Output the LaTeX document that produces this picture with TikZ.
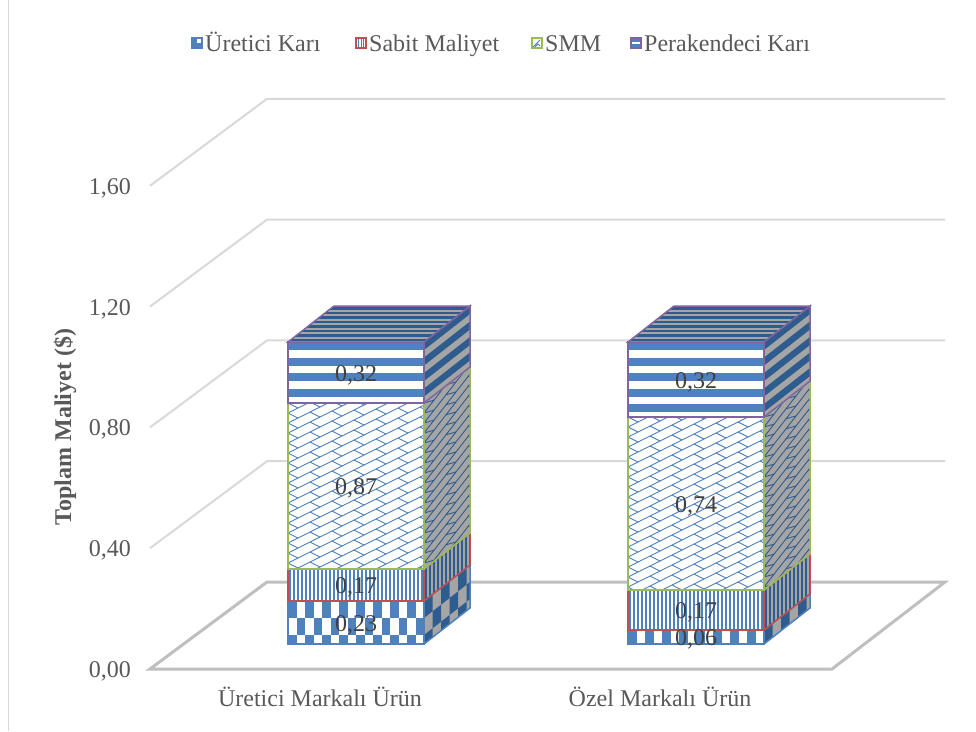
\documentclass[tikz,border=0pt]{standalone}
\usepackage{fontspec}
\setmainfont{Liberation Serif}
\definecolor{ublue}{HTML}{4F81BD}
\definecolor{dblue}{HTML}{2E5C8E}
\definecolor{sgray}{HTML}{A5A5A5}
\definecolor{cred}{HTML}{C0504D}
\definecolor{cgreen}{HTML}{9BBB59}
\definecolor{cpurple}{HTML}{8064A2}
\definecolor{gridc}{HTML}{D9D9D9}
\definecolor{floorc}{HTML}{BFBFBF}
\definecolor{txt}{HTML}{595959}
\definecolor{lbl}{HTML}{404040}

% fill patterns drawn in local coordinates: width #1, top #2, bottom #3, ink #4, ground #5
\newcommand\patChecker[5]{%
  \fill[#5] (0,#2) rectangle (#1,#3);
  \pgfmathtruncatemacro\ncol{ceil(#1/8.5)}%
  \pgfmathtruncatemacro\nrow{ceil((#3-#2)/17)}%
  \foreach \i in {0,...,\ncol}{\foreach \j in {0,...,\nrow}{%
    \pgfmathtruncatemacro\pp{mod(\i+\j,2)}%
    \ifnum\pp=0 \fill[#4] ({8.5*\i},{#2+17*\j}) rectangle ({8.5*\i+8.5},{#2+17*\j+17});\fi
  }}%
}
\newcommand\patVlines[5]{%
  \fill[#5] (0,#2) rectangle (#1,#3);
  \foreach \x in {2,6,...,#1}{\draw[#4,line width=2] (\x,#2) -- (\x,#3);}%
}
\newcommand\patShingle[5]{%
  \fill[#5] (0,#2) rectangle (#1,#3);
  \pgfmathtruncatemacro\nrow{ceil((#3-#2+0.5*#1)/10)+1}%
  \pgfmathtruncatemacro\ncol{ceil(#1/22)}%
  \foreach \r in {-1,...,\nrow}{%
    \pgfmathsetmacro\yy{#2+10*\r}%
    \draw[#4,line width=0.9] (0,\yy) -- (#1,{\yy-0.5*#1});
    \foreach \c in {-1,...,\ncol}{%
      \pgfmathsetmacro\xx{22*\c}%
      \draw[#4,line width=0.9] (\xx,{\yy-0.5*\xx}) -- ++(10,5);
    }%
  }%
}
\newcommand\patHstripes[5]{%
  \fill[#5] (0,#2) rectangle (#1,#3);
  \pgfmathtruncatemacro\nstr{ceil((#3-#2)/15.5)}%
  \foreach \k in {0,...,\nstr}{\fill[#4] (0,{#2+15.5*\k}) rectangle (#1,{#2+15.5*\k+8});}%
}

% one stacked segment: left x #1, top #2, bottom #3, pattern #4, edge colour #5
\newcommand\barseg[5]{%
  \pgfmathsetmacro\xr{#1+136}%
  \begin{scope}[shift={(#1,0)}]
    \clip (0,#2) rectangle (136,#3);
    #4{136}{#2}{#3}{ublue}{white}
  \end{scope}
  \begin{scope}[cm={1,0.7826,0,1,(\xr,0)}]
    \clip (0,#2) rectangle (46,#3);
    #4{46}{#2}{#3}{dblue}{sgray}
  \end{scope}
  \draw[#5,edge] (#1,#2) rectangle (\xr,#3);
  \draw[#5,edge] (\xr,#3) -- ++(46,-36) -- ++(0,{-(#3-#2)}) -- (\xr,#2);
}
% lid of a bar: left x #1, top #2
\newcommand\barlid[2]{%
  \begin{scope}
    \clip (#1,#2) -- ++(136,0) -- ++(46,-36) -- ++(-136,0) -- cycle;
    \fill[sgray] (#1,#2) rectangle ++(182,-36);
    \foreach \k in {0,...,8}{\fill[dblue] (#1,{#2-1-4.5*\k}) rectangle ++(182,-2.3);}
  \end{scope}
  \draw[cpurple,edge] (#1,#2) -- ++(136,0) -- ++(46,-36) -- ++(-136,0) -- cycle;
}

\begin{document}
\begin{tikzpicture}[x=1pt,y=-1pt,
  every node/.style={font=\fontsize{24}{29}\selectfont,inner sep=0pt},
  edge/.style={line width=1.5,line join=miter},
  gridline/.style={gridc,line width=2},
  floorline/.style={floorc,line width=3,line join=miter},
  ticklbl/.style={text=txt,anchor=base east},
  datalbl/.style={text=lbl,anchor=base},
  catlbl/.style={text=txt,anchor=base},
  leglbl/.style={text=txt,anchor=base west},
  legkey/.style={line width=1.2}]
\useasboundingbox (0,0) rectangle (976,731);
\fill[white] (0,0) rectangle (976,731);
\draw[gridc,line width=1] (8,0) -- (8,731);

% walls and floor
\foreach \v in {0.4,0.8,1.2,1.6}{
  \draw[gridline] (150,{669-302*\v}) -- (267,{582-302*\v}) -- (945,{582-302*\v});
}
\draw[floorline] (150,669) -- (832,669) -- (945,582) -- (267,582) -- cycle;

% first bar
\barseg{288}{601}{644}{\patChecker}{ublue}
\barseg{288}{569}{601}{\patVlines}{cred}
\barseg{288}{403}{569}{\patShingle}{cgreen}
\barseg{288}{342}{403}{\patHstripes}{cpurple}
\barlid{288}{342}

% second bar
\barseg{628}{630}{644}{\patChecker}{ublue}
\barseg{628}{590}{630}{\patVlines}{cred}
\barseg{628}{417}{590}{\patShingle}{cgreen}
\barseg{628}{342}{417}{\patHstripes}{cpurple}
\barlid{628}{342}

% value labels
\node[datalbl] (a1) at (356,631) {0,23};
\node[datalbl] (a2) at (356,593) {0,17};
\node[datalbl] (a3) at (356,494) {0,87};
\node[datalbl] (a4) at (356,381) {0,32};
\node[datalbl] (b1) at (696,645) {0,06};
\node[datalbl] (b2) at (696,618) {0,17};
\node[datalbl] (b3) at (696,512) {0,74};
\node[datalbl] (b4) at (696,388) {0,32};

% value axis
\node[ticklbl] (t0) at (131,677) {0,00};
\node[ticklbl] (t1) at (131,556) {0,40};
\node[ticklbl] (t2) at (131,435) {0,80};
\node[ticklbl] (t3) at (131,315) {1,20};
\node[ticklbl] (t4) at (131,194) {1,60};
\node[text=txt,rotate=90,font=\fontsize{24}{29}\selectfont\bfseries] (ytitle) at (65,427) {Toplam Maliyet (\$)};

% categories
\node[catlbl] (c1) at (320,706) {Üretici Markalı Ürün};
\node[catlbl] (c2) at (660,706) {Özel Markalı Ürün};

% legend
\fill[ublue] (192,38) rectangle (202,48);
\fill[white] (197,38.8) rectangle (201.2,43);
\draw[ublue,legkey] (192,38) rectangle (202,48);
\node[leglbl] (l1) at (205,51) {Üretici Karı};

\fill[white] (356,38) rectangle (366,48);
\foreach \x in {358.5,361,363.5}{\draw[ublue,line width=1] (\x,38) -- (\x,48);}
\draw[cred,legkey] (356,38) rectangle (366,48);
\node[leglbl] (l2) at (369,51) {Sabit Maliyet};

\fill[white] (532,38) rectangle (542,48);
\draw[ublue,line width=0.9] (533,47) -- (540,40) (535,47) -- (538,44) -- (540,46);
\draw[cgreen,legkey] (532,38) rectangle (542,48);
\node[leglbl] (l3) at (545,51) {SMM};

\fill[ublue] (631,38) rectangle (641,48);
\fill[white] (631,41.8) rectangle (641,44.2);
\draw[cpurple,legkey] (631,38) rectangle (641,48);
\node[leglbl] (l4) at (644,51) {Perakendeci Karı};
\end{tikzpicture}
\end{document}
